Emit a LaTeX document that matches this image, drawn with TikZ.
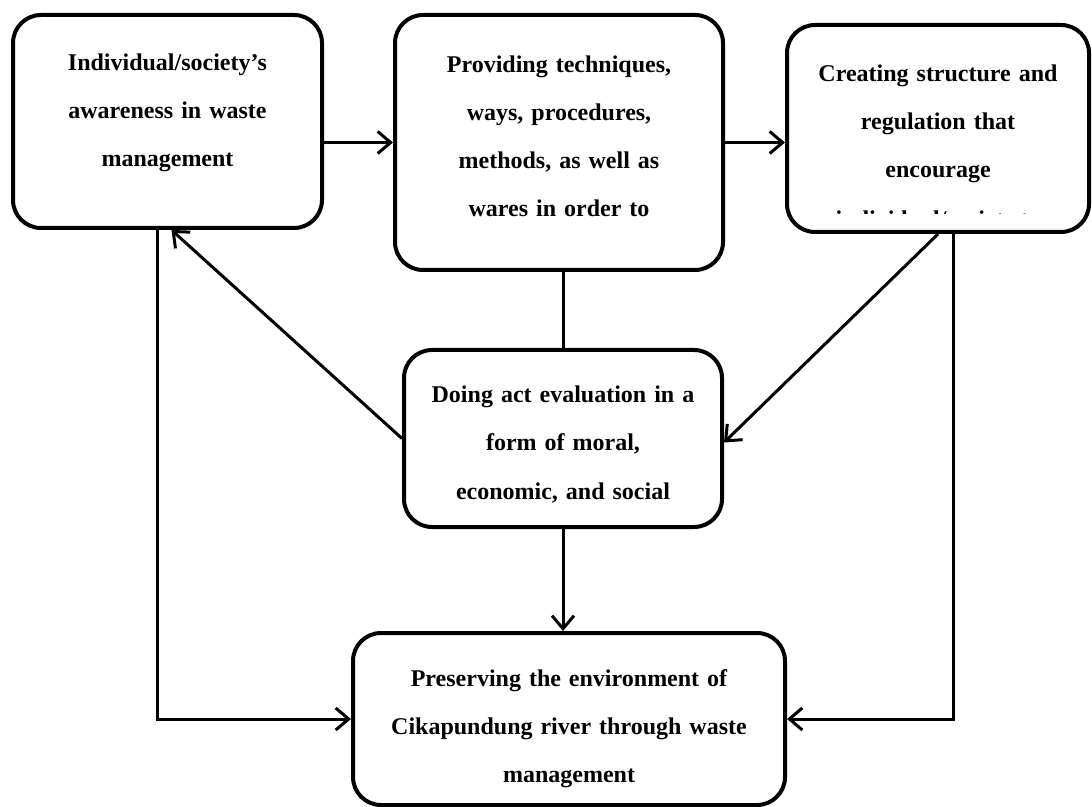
\documentclass[tikz,border=0pt]{standalone}
\usepackage{fontspec}
\setmainfont[WordSpace=0.75]{Liberation Serif}
\usetikzlibrary{arrows.meta}

\tikzset{
    card/.style={draw, line width=2pt, rounded corners=14pt, inner xsep=6pt, inner ysep=0pt,
        align=center, font=\bfseries\fontsize{12}{24}\selectfont},
    cardtext/.style={inner sep=0pt, font=\bfseries\fontsize{12}{24}\selectfont},
    flow/.style={line width=1.5pt, -{Straight Barb[length=6.5pt,width=11pt]}},
    link/.style={line width=1.5pt}
}

\begin{document}
\begin{tikzpicture}[x=0.5pt, y=-0.5pt]

        \useasboundingbox (0,0) rectangle (1092,807);

        % Boxes
        \node[card, text width=142.5pt, text height=28pt, text depth=78.5pt] (aware) at (167.5,121.5)
            {Individual/society’s\\awareness in waste\\management};
        \node[card, text width=152pt, text height=29pt, text depth=98.5pt] (provide) at (559,142.5)
            {Providing techniques,\\ways, procedures,\\methods, as well as\\wares in order to};
        \node[card, text width=139pt, text height=28.5pt, text depth=75pt] (create) at (938,128.5)
            {Creating structure and\\regulation that\\encourage};
        \node[card, text width=147pt, text height=26.5pt, text depth=62pt] (evaluate) at (563,438.5)
            {Doing act evaluation in a\\form of moral,\\economic, and social};
        \node[card, text width=204pt, text height=26.5pt, text depth=59.5pt] (preserve) at (569,719)
            {Preserving the environment of\\Cikapundung river through waste\\management};

        % Overflowing line of the right box
        \begin{scope}
            \clip (create.north west) rectangle ([yshift=10pt]create.south east);
            \node[cardtext, anchor=base] (create-cut) at ([yshift=-102.5pt]create.north) {individual/society to};
        \end{scope}

        % Connectors
        \draw[flow] (provide.west -| aware.east) -- (provide.west);
        \draw[flow] (provide.east) -- (provide.east -| create.west);
        \draw[link] (evaluate.north |- provide.south) -- (evaluate.north);
        \draw[flow] (create.south) -- ([yshift=-2pt]evaluate.east);
        \draw[flow] (evaluate.west) -- ([xshift=2pt]aware.south);
        \draw[flow] (evaluate.south) -- (evaluate.south |- preserve.north);
        \draw[flow] ([xshift=-5pt]aware.south) |- (preserve.west);
        \draw[flow] ([xshift=7.5pt]create.south) |- (preserve.east);

    \end{tikzpicture}
\end{document}
